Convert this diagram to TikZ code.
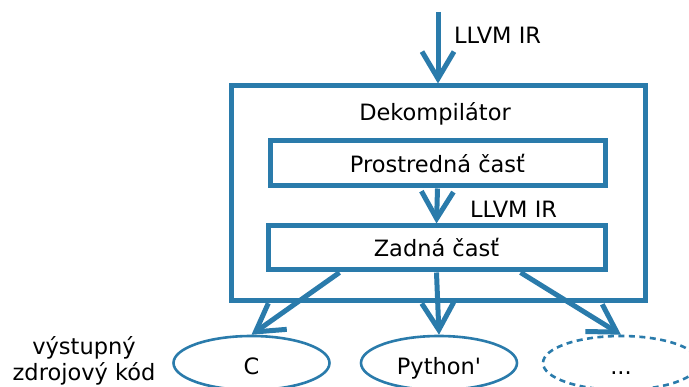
\documentclass[tikz,border=0pt]{standalone}
\usepackage{fontspec}
\setmainfont{DejaVu Sans}[Ligatures=TeXOff]
\usetikzlibrary{arrows.meta,shapes.geometric}
\definecolor{flow}{RGB}{42,123,171}
\begin{document}
\begin{tikzpicture}[x=1pt,y=-1pt,
  every node/.style={font=\fontsize{22.5}{26}\selectfont, text=black},
  frame/.style={draw=flow, line width=5pt, inner sep=0pt},
  stage/.style={draw=flow, line width=5pt, inner sep=0pt},
  target/.style={ellipse, draw=flow, line width=2.6pt, inner sep=0pt,
    text height=23pt, text depth=0pt,
    minimum width=156pt, minimum height=54pt},
  flowarrow/.style={draw=flow, line width=5pt,
    -{Straight Barb[length=27pt,width=32pt]}},
  irlabel/.style={anchor=west, inner sep=0pt}]
  \useasboundingbox (0,0) rectangle (689,387);

  % decompiler frame and its title
  \node[frame, minimum width=414pt, minimum height=215pt] (dec) at (438,193.5) {};
  \node (title) at (435,114) {Dekompilátor};

  % the two stages inside it
  \node[stage, minimum width=335pt, minimum height=45pt] (mid) at (437.5,163.5) {Prostredná časť};
  \node[stage, minimum width=337pt, minimum height=44pt] (back) at (436.5,248) {Zadná časť};

  % output languages
  \node[target] (c) at (251.5,363) {C};
  \node[target] (py) at (439,363) {Python'};
  \node[target, dashed, dash pattern=on 6pt off 4.5pt] (more) at (621,363) {...};
  \node[align=center, inner sep=0pt] (out) at (84,361) {výstupný\\zdrojový kód};

  % input and inner flow
  \coordinate (src) at (438,12);
  \draw[flowarrow] (src) -- (dec.north);
  \node[irlabel] (irtop) at (454,35) {LLVM IR};
  \draw[flowarrow] (mid.south) -- (back.north);
  \node[irlabel] (irmid) at (470,209) {LLVM IR};

  % generated code
  \draw[flowarrow] ([xshift=-97pt]back.south) -- (c.north);
  \draw[flowarrow] (back.south) -- (py.north);
  \draw[flowarrow] ([xshift=84pt]back.south) -- (more.north);
\end{tikzpicture}
\end{document}
